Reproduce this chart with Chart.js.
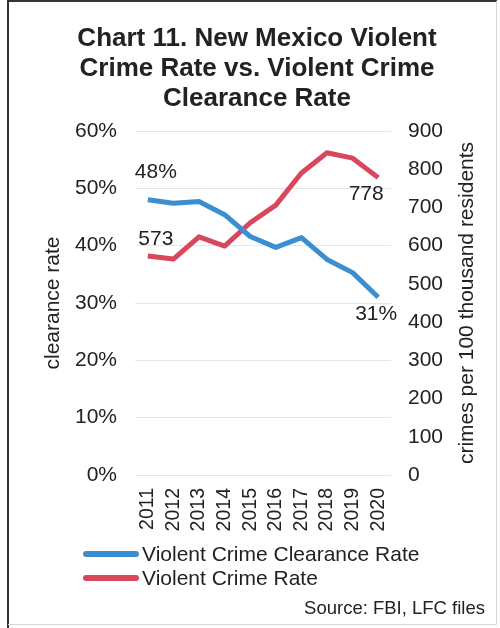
<!DOCTYPE html>
<html>
<head>
<meta charset="utf-8">
<title>Violent Crime Rate vs. Clearance Rate</title>
<script src="https://cdn.jsdelivr.net/npm/chart.js"></script>
<style>
html, body { margin: 0; padding: 0; background: #fff; }
</style>
</head>
<body>
<canvas id="chart" width="500" height="628"></canvas>
<script>
// data
const years = ["2011", "2012", "2013", "2014", "2015", "2016", "2017", "2018", "2019", "2020"];
const clearanceRate = [48, 47.4, 47.7, 45.4, 41.6, 39.7, 41.4, 37.6, 35.3, 31];
const crimeRate = [573, 565, 623, 599, 660, 706, 790, 843, 829, 778];
const clearanceTicks = [0, 10, 20, 30, 40, 50, 60];
const crimeTicks = [0, 100, 200, 300, 400, 500, 600, 700, 800, 900];

const FONT = "'Liberation Sans', Arial, sans-serif";
const TEXT = "#222";
const BLUE = "#3b8fd1";
const RED = "#d8475b";

// frame around the whole figure
const framePlugin = {
  id: "frame",
  beforeDraw(chart) {
    const ctx = chart.ctx;
    ctx.save();
    ctx.fillStyle = "#fff";
    ctx.fillRect(0, 0, chart.width, chart.height);
    ctx.strokeStyle = "#333";
    ctx.lineWidth = 2;
    ctx.beginPath();
    ctx.moveTo(8, chart.height);
    ctx.lineTo(8, 1);
    ctx.lineTo(chart.width - 3, 1);
    ctx.stroke();
    ctx.strokeStyle = "#d6d6d6";
    ctx.lineWidth = 1;
    ctx.beginPath();
    ctx.moveTo(chart.width - 3.5, 1);
    ctx.lineTo(chart.width - 3.5, chart.height - 3.5);
    ctx.lineTo(8, chart.height - 3.5);
    ctx.stroke();
    ctx.restore();
  }
};

// value labels at the first and last points
const pointLabels = {
  id: "pointLabels",
  afterDatasetsDraw(chart, args, opts) {
    const ctx = chart.ctx;
    ctx.save();
    ctx.font = "21px " + FONT;
    ctx.fillStyle = TEXT;
    ctx.textAlign = "center";
    ctx.textBaseline = "middle";
    opts.items.forEach(item => {
      const pt = chart.getDatasetMeta(item.dataset).data[item.index];
      const v = chart.data.datasets[item.dataset].data[item.index];
      ctx.fillText(v + (item.suffix || ""), pt.x + item.dx, pt.y + item.dy);
    });
    ctx.restore();
  }
};

// legend, right axis title and source line
const extras = {
  id: "extras",
  afterDraw(chart) {
    const ctx = chart.ctx;
    const area = chart.chartArea;
    ctx.save();

    // right axis title reads bottom to top
    ctx.font = "21px " + FONT;
    ctx.fillStyle = TEXT;
    ctx.textAlign = "center";
    ctx.textBaseline = "middle";
    ctx.translate(467, (area.top + area.bottom) / 2);
    ctx.rotate(-Math.PI / 2);
    ctx.fillText("crimes per 100 thousand residents", 0, 0);
    ctx.setTransform(1, 0, 0, 1, 0, 0);

    // legend
    chart.data.datasets.forEach((ds, i) => {
      const y = 554 + i * 24;
      ctx.strokeStyle = ds.borderColor;
      ctx.lineWidth = 6;
      ctx.lineCap = "round";
      ctx.beginPath();
      ctx.moveTo(86, y);
      ctx.lineTo(136, y);
      ctx.stroke();
      ctx.fillStyle = TEXT;
      ctx.textAlign = "left";
      ctx.textBaseline = "middle";
      ctx.font = "21px " + FONT;
      ctx.fillText(ds.label, 142, y + 1);
    });

    // source
    ctx.font = "18.5px " + FONT;
    ctx.textAlign = "right";
    ctx.fillText("Source: FBI, LFC files", 485, 609);
    ctx.restore();
  }
};

new Chart(document.getElementById("chart"), {
  type: "line",
  data: {
    labels: years,
    datasets: [
      {
        label: "Violent Crime Clearance Rate",
        data: clearanceRate,
        yAxisID: "yLeft",
        borderColor: BLUE,
        borderWidth: 5,
        pointRadius: 0,
        tension: 0,
        borderJoinStyle: "round"
      },
      {
        label: "Violent Crime Rate",
        data: crimeRate,
        yAxisID: "yRight",
        borderColor: RED,
        borderWidth: 5,
        pointRadius: 0,
        tension: 0,
        borderJoinStyle: "round"
      }
    ]
  },
  options: {
    responsive: false,
    animation: false,
    devicePixelRatio: 1,
    layout: { padding: { left: 14, right: 0, top: 0, bottom: 0 } },
    plugins: {
      legend: { display: false },
      tooltip: { enabled: false },
      title: {
        display: true,
        text: ["Chart 11. New Mexico Violent", "Crime Rate vs. Violent Crime", "Clearance Rate"],
        color: TEXT,
        font: { family: FONT, size: 26, weight: "bold", lineHeight: 30 / 26 },
        padding: { top: 24, bottom: 17 }
      },
      pointLabels: {
        items: [
          { dataset: 0, index: 0, dx: 8, dy: -28, suffix: "%" },
          { dataset: 1, index: 0, dx: 8, dy: -17 },
          { dataset: 1, index: 9, dx: -12, dy: 17 },
          { dataset: 0, index: 9, dx: -2, dy: 17, suffix: "%" }
        ]
      }
    },
    scales: {
      x: {
        offset: true,
        grid: { display: false, drawTicks: false },
        border: { display: false },
        ticks: {
          color: TEXT,
          font: { family: FONT, size: 19.5 },
          minRotation: 90,
          maxRotation: 90,
          autoSkip: false,
          padding: 13
        },
        afterFit(scale) { scale.height = 153; }
      },
      yLeft: {
        position: "left",
        min: clearanceTicks[0],
        max: clearanceTicks[clearanceTicks.length - 1],
        afterBuildTicks(scale) { scale.ticks = clearanceTicks.map(v => ({ value: v })); },
        grid: { color: "#e6e6e6", lineWidth: 1, drawTicks: false },
        border: { display: false },
        ticks: {
          color: TEXT,
          font: { family: FONT, size: 21 },
          padding: 18,
          callback: v => v + "%"
        },
        title: {
          display: true,
          text: "clearance rate",
          color: TEXT,
          font: { family: FONT, size: 21 },
          padding: { top: 27, bottom: 0 }
        },
        afterFit(scale) { scale.width = 121; }
      },
      yRight: {
        position: "right",
        min: crimeTicks[0],
        max: crimeTicks[crimeTicks.length - 1],
        afterBuildTicks(scale) { scale.ticks = crimeTicks.map(v => ({ value: v })); },
        grid: { display: false, drawTicks: false },
        border: { display: false },
        ticks: {
          color: TEXT,
          font: { family: FONT, size: 21 },
          padding: 17
        },
        afterFit(scale) { scale.width = 109; }
      }
    }
  },
  plugins: [framePlugin, pointLabels, extras]
});
</script>
</body>
</html>
